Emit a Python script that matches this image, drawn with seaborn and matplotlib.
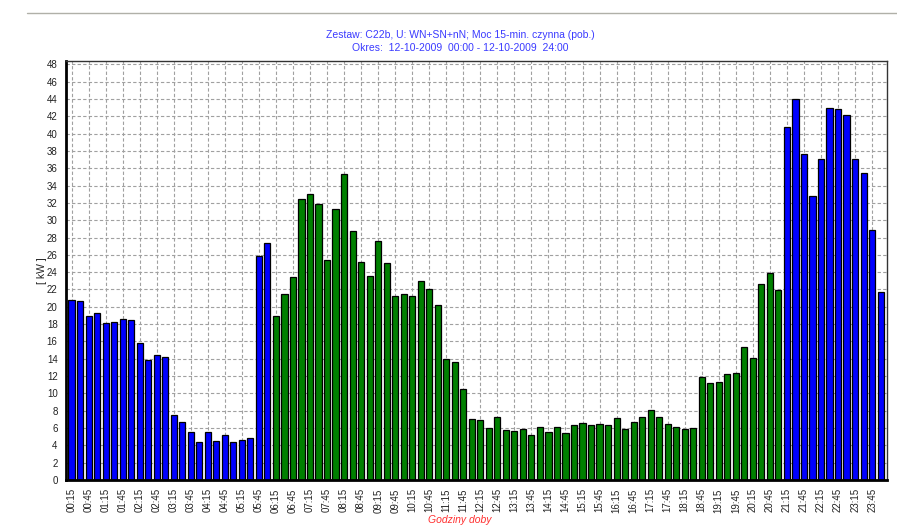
import matplotlib
matplotlib.use("Agg")
import matplotlib.pyplot as plt
from matplotlib.lines import Line2D
import seaborn as sns
import pandas as pd

# ---- data (15-min active power, kW) ----
times = [f"{(m // 60) % 25:02d}:{m % 60:02d}" for m in range(15, 24 * 60 + 1, 15)]
night_early_kw = [20.8, 20.7, 18.9, 19.25, 18.1, 18.2, 18.6, 18.45, 15.8, 13.8, 14.45, 14.2,
                  7.5, 6.7, 5.6, 4.35, 5.6, 4.45, 5.15, 4.35, 4.65, 4.9, 25.85, 27.35]
day_kw = [18.9, 21.5, 23.4, 32.5, 33.0, 31.9, 25.4, 31.25, 35.3, 28.7, 25.2, 23.6, 27.6, 25.1,
          21.3, 21.5, 21.3, 23.0, 22.0, 20.2,
          14.0, 13.6, 10.5, 7.0, 6.9, 5.95, 7.3, 5.8, 5.65, 5.85, 5.25, 6.15, 5.55, 6.15, 5.4,
          6.35, 6.6, 6.3, 6.45, 6.3, 7.2, 5.85, 6.65, 7.3, 8.1, 7.3, 6.45, 6.15, 5.9, 5.95,
          11.9, 11.25, 11.3, 12.25, 12.35, 15.3, 14.1, 22.6, 23.9, 21.9]
night_late_kw = [40.8, 44.0, 37.6, 32.8, 37.1, 43.0, 42.8, 42.2, 37.1, 35.4, 28.9, 21.7]
zones = ["noc"] * len(night_early_kw) + ["dzien"] * len(day_kw) + ["noc"] * len(night_late_kw)
y_ticks = list(range(0, 49, 2))

df = pd.DataFrame({"czas": times,
                   "kW": night_early_kw + day_kw + night_late_kw,
                   "strefa": zones})

sns.set_style("white")
plt.rcParams["font.family"] = ["Liberation Sans", "DejaVu Sans"]

fig = plt.figure(figsize=(8.97, 5.27), dpi=100)
ax = fig.add_axes([66 / 897, 1 - 480 / 527, (887 - 66) / 897, (480 - 61) / 527])

sns.barplot(data=df, x="czas", y="kW", hue="strefa", order=times,
            palette={"noc": "#0000ff", "dzien": "#008000"}, dodge=False,
            width=0.72, edgecolor="black", linewidth=0.9, legend=False, ax=ax,
            saturation=1)

ax.set_xlim(-0.65, 95.75)
ax.set_ylim(0, 48.38)
ax.set_yticks(y_ticks)
ax.set_yticklabels([str(v) for v in y_ticks], fontsize=7, color="#222222")
xt = list(range(0, len(times), 2))
ax.set_xticks(xt)
ax.set_xticklabels([times[i] for i in xt], rotation=90, fontsize=7, color="#222233")
ax.tick_params(axis="both", direction="out", length=4, width=0.8, colors="#333333",
               labelcolor="#222222", pad=2)

ax.set_axisbelow(True)
ax.grid(True, linestyle=(0, (3, 2)), color="#a0a0a0", linewidth=0.8)

for s in ["left", "bottom"]:
    ax.spines[s].set_linewidth(2.0)
    ax.spines[s].set_color("black")
for s in ["top", "right"]:
    ax.spines[s].set_linewidth(1.0)
    ax.spines[s].set_color("#333333")

ax.set_xlabel("")
ax.set_ylabel("")
fig.text(41.5 / 897, 1 - 271 / 527, "[ kW ]", rotation=90, ha="center", va="center",
         fontsize=7.5, color="#222222")
fig.text(460 / 897, 1 - 520 / 527, "Godziny doby", ha="center", va="center",
         fontsize=7.5, color="#ff3030", style="italic")
fig.text(460 / 897, 1 - 35 / 527, "Zestaw: C22b, U: WN+SN+nN; Moc 15-min. czynna (pob.)",
         ha="center", va="center", fontsize=7.5, color="#3a3aff")
fig.text(460 / 897, 1 - 48 / 527, "Okres:  12-10-2009  00:00 - 12-10-2009  24:00",
         ha="center", va="center", fontsize=7.5, color="#3a3aff")

fig.add_artist(Line2D([0.03, 1.0], [1 - 13 / 527, 1 - 13 / 527], transform=fig.transFigure,
                      color="#b0b0a8", linewidth=1.0))

fig.savefig("out.png", dpi=100)
